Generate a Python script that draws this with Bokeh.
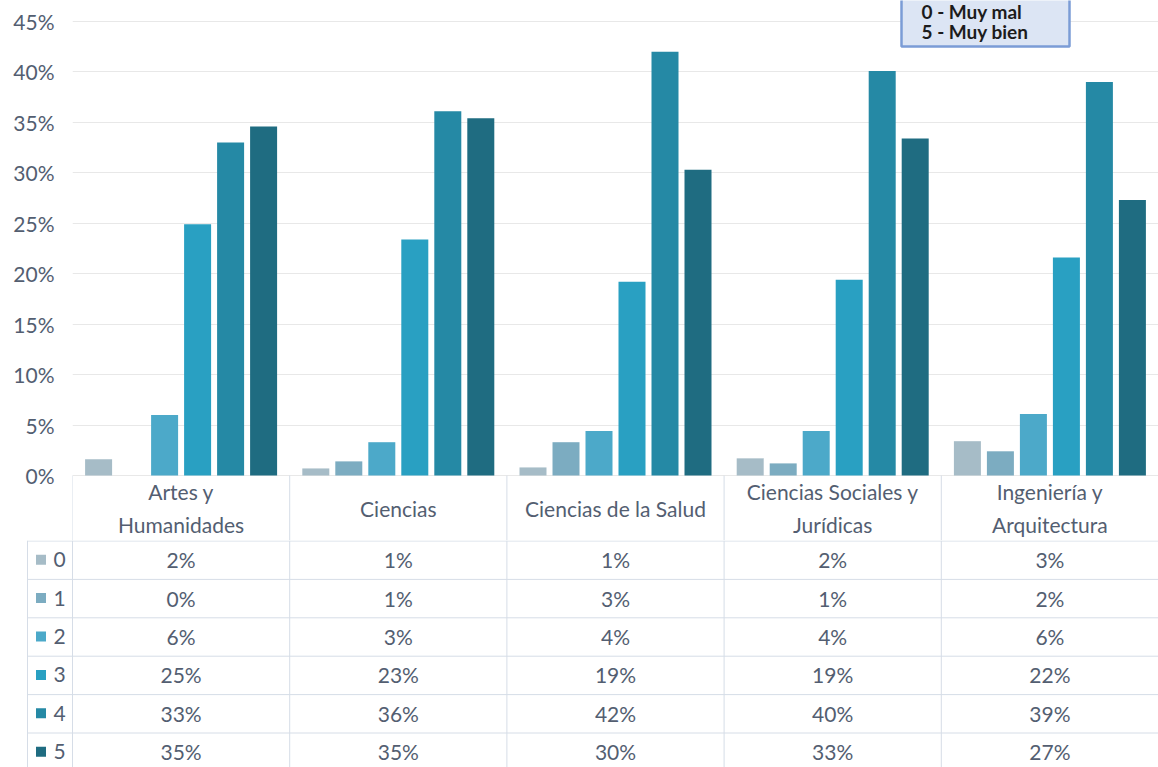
import numpy as np
from bokeh.plotting import figure
from bokeh.layouts import column
from bokeh.models import FactorRange, Range1d, FixedTicker, NumeralTickFormatter, ColumnDataSource
from bokeh.transform import dodge
from bokeh.core.properties import value
from bokeh.embed import file_html
from bokeh.resources import INLINE

# ---------------- data ----------------
categories = ["Artes y Humanidades", "Ciencias", "Ciencias de la Salud",
              "Ciencias Sociales y Jurídicas", "Ingeniería y Arquitectura"]
header_labels = ["Artes y\nHumanidades", "Ciencias", "Ciencias de la Salud",
                 "Ciencias Sociales y\nJurídicas", "Ingeniería y\nArquitectura"]
series = ["0", "1", "2", "3", "4", "5"]
s0 = [0.016, 0.007, 0.008, 0.017, 0.034]
s1 = [0.000, 0.014, 0.033, 0.012, 0.024]
s2 = [0.060, 0.033, 0.044, 0.044, 0.061]
s3 = [0.249, 0.234, 0.192, 0.194, 0.216]
s4 = [0.330, 0.361, 0.420, 0.401, 0.390]
s5 = [0.346, 0.354, 0.303, 0.334, 0.273]
all_series = [s0, s1, s2, s3, s4, s5]
y_ticks = [0.0, 0.05, 0.10, 0.15, 0.20, 0.25, 0.30, 0.35, 0.40, 0.45]
legend_note = ["0 - Muy mal", "5 - Muy bien"]

# ---------------- style ----------------
colors = ["#a6bcc7", "#7cacc1", "#4ca9c9", "#29a0c2", "#2589a5", "#1f6c81"]
FONT = "Lato"
TXT = "#535e71"
LINE = "#d6dde7"
W = 1158
FL = 72                      # frame left (px)
CAT_PX = (W - FL) / 5.0      # pixels per category
PX = 1008.9                  # pixels per 100 % on the value axis
ZERO = 475                   # pixel row of the 0 % line
HEAD_BOTTOM = 540            # pixel row where the header row of the table ends
H1 = HEAD_BOTTOM             # chart (incl. category header row) height


def v(px_row):
    """value-axis coordinate of a pixel row in the chart figure"""
    return (ZERO - px_row) / PX


# ---------------- chart ----------------
src = ColumnDataSource(dict(cat=categories, **{f"s{i}": s for i, s in enumerate(all_series)}))

p = figure(width=W, height=H1, x_range=FactorRange(factors=categories, range_padding=0),
           y_range=Range1d(v(H1), v(0)),
           output_backend="svg", toolbar_location=None,
           x_axis_location=None, min_border_left=FL, min_border_right=0,
           min_border_top=0, min_border_bottom=0)
p.frame_align = False
p.outline_line_color = None
p.xgrid.visible = False
p.ygrid.ticker = FixedTicker(ticks=y_ticks)
p.ygrid.grid_line_color = "#e8e8e8"
p.yaxis.ticker = FixedTicker(ticks=y_ticks)
p.yaxis.formatter = NumeralTickFormatter(format="0%")
p.yaxis.axis_line_color = None
p.yaxis.major_tick_line_color = None
p.yaxis.minor_tick_line_color = None
p.yaxis.major_tick_out = 0
p.yaxis.major_label_standoff = 18
p.yaxis.major_label_text_font = FONT
p.yaxis.major_label_text_font_size = "21px"
p.yaxis.major_label_text_color = TXT

step = 33 / CAT_PX
bw = 27 / CAT_PX
for i, col in enumerate(colors):
    p.vbar(x=dodge("cat", (i - 2.5) * step, range=p.x_range), top=f"s{i}", width=bw,
           source=src, fill_color=col, line_color=None)

# header row of the data table (category names) with its separators
n = len(categories)
p.segment(x0=list(range(n)), x1=list(range(n)), y0=[v(H1)] * n, y1=[0] * n,
          line_color=LINE, line_width=1)
centers = [i + 0.5 for i in range(n)]
p.text(x=centers, y=[v(507.5)] * n, text=header_labels, text_font=value(FONT),
       text_font_size="21px", text_color=TXT, text_align="center",
       text_baseline="middle", text_line_height=1.35)

# note box (top right)
p.quad(left=[(901 - FL) / CAT_PX], right=[(1069 - FL) / CAT_PX], bottom=[v(46)], top=[v(-20)],
       fill_color="#dce5f4", line_color="#7b9cd6", line_width=2.5)
p.text(x=[(921 - FL) / CAT_PX] * 2, y=[v(11), v(31)], text=legend_note,
       text_font=value(FONT), text_font_style="bold", text_font_size="19px",
       text_color="#1c1c1c", text_baseline="middle", text_align="left")

# ---------------- data table body ----------------
H2 = 767 - H1
ROW = 38.4
left_edge = (27 - FL) / CAT_PX
t = figure(width=W, height=H2, x_range=Range1d(-FL / CAT_PX, 5.0), y_range=Range1d(H2, 0),
           output_backend="svg", toolbar_location=None, x_axis_location=None,
           y_axis_location=None, min_border=0)
t.frame_align = False
t.grid.visible = False
t.outline_line_color = None

t.segment(x0=list(range(n)), x1=list(range(n)), y0=[0] * n, y1=[H2] * n,
          line_color=LINE, line_width=1)
t.segment(x0=[left_edge], x1=[left_edge], y0=[0], y1=[H2], line_color=LINE, line_width=1)
rows_y = [0.5 + k * ROW for k in range(len(series))]
t.segment(x0=[left_edge] * len(rows_y), x1=[5] * len(rows_y), y0=rows_y, y1=rows_y,
          line_color=LINE, line_width=1)

row_c = [(k + 0.5) * ROW for k in range(len(series))]
t.scatter(x=[(40.5 - FL) / CAT_PX] * len(series), y=row_c, marker="square", size=10,
          fill_color=colors, line_color=None)
t.text(x=[(53 - FL) / CAT_PX] * len(series), y=row_c, text=series, text_font=value(FONT),
       text_font_size="21px", text_color=TXT, text_align="left", text_baseline="middle")

xs, ys, labs = [], [], []
for k, s in enumerate(all_series):
    for i, val in enumerate(s):
        xs.append(centers[i])
        ys.append(row_c[k])
        labs.append(f"{int(val * 100 + 0.5)}%")
t.text(x=xs, y=ys, text=labs, text_font=value(FONT), text_font_size="21px",
       text_color=TXT, text_align="center", text_baseline="middle")

layout = column(p, t, spacing=0)
open("out.html", "w").write(file_html(layout, INLINE))
